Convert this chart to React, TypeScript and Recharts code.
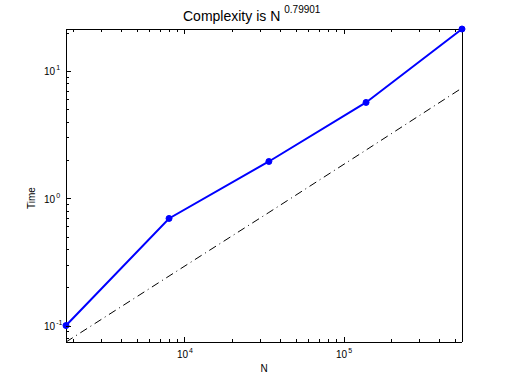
import React from 'react';
import { LineChart, Line, XAxis, YAxis } from 'recharts';

const nValues = [1786, 7940, 33700, 137600, 552000];
const timeValues = [0.101, 0.7, 1.96, 5.7, 21.5];
// reference slope line (dash-dot), N^0.79901
const fitValues = [0.075, 0.247, 0.78, 2.41, 7.4];

const xTicks = [
  2000, 3000, 4000, 5000, 6000, 7000, 8000, 9000, 10000,
  20000, 30000, 40000, 50000, 60000, 70000, 80000, 90000, 100000,
  200000, 300000, 400000, 500000,
];
const yTicks = [
  0.08, 0.09, 0.1, 0.2, 0.3, 0.4, 0.5, 0.6, 0.7, 0.8, 0.9, 1,
  2, 3, 4, 5, 6, 7, 8, 9, 10, 20,
];

const title = 'Complexity is N';
const titleExp = '0.79901';

const data = nValues.map((n, i) => ({ n, time: timeValues[i], fit: fitValues[i] }));

const FONT = 'Liberation Sans, Arial, Helvetica, sans-serif';

const isPow10 = (v: number) => Math.abs(Math.log10(v) - Math.round(Math.log10(v))) < 1e-9;

const XTick = (props: any) => {
  const { x, y, payload, side } = props;
  const v = payload.value;
  const major = isPow10(v);
  const len = major ? 5 : 3;
  const dir = side === 'bottom' ? -1 : 1;
  return (
    <g>
      <line x1={x} x2={x} y1={y} y2={y + dir * len} stroke="#000" strokeWidth={1} shapeRendering="crispEdges" />
      {major && side === 'bottom' && (
        <text x={x - 8} y={y + 16} fontSize={10} fontFamily={FONT} fill="#000">
          10
          <tspan dy={-5} dx={1} fontSize={7}>{Math.round(Math.log10(v))}</tspan>
        </text>
      )}
    </g>
  );
};

const YTick = (props: any) => {
  const { x, y, payload, side } = props;
  const v = payload.value;
  const major = isPow10(v);
  const len = major ? 5 : 3;
  const dir = side === 'left' ? 1 : -1;
  const exp = Math.round(Math.log10(v));
  return (
    <g>
      <line x1={x} x2={x + dir * len} y1={y} y2={y} stroke="#000" strokeWidth={1} shapeRendering="crispEdges" />
      {major && side === 'left' && (
        <text x={x - 22} y={y + 4} fontSize={10} fontFamily={FONT} fill="#000">
          10
          <tspan dy={-5} dx={1} fontSize={7}>{exp}</tspan>
        </text>
      )}
    </g>
  );
};

const axisCommon = {
  type: 'number' as const,
  scale: 'log' as const,
  interval: 0 as const,
  tickSize: 0,
  tickMargin: 0,
  tickLine: false,
  axisLine: { stroke: '#000', strokeWidth: 1, shapeRendering: 'crispEdges' },
};

export default function App() {
  return (
    <div style={{ position: 'absolute', left: 0, top: 0, width: 510, height: 384, background: '#fff' }}>
      <LineChart
        width={510}
        height={384}
        data={data}
        margin={{ top: 19, right: 38, bottom: 12, left: 26 }}
      >
        <XAxis
          {...axisCommon}
          xAxisId="b"
          dataKey="n"
          domain={[1786, 552000]}
          ticks={xTicks}
          height={30}
          tick={<XTick side="bottom" />}
        />
        <XAxis
          {...axisCommon}
          xAxisId="t"
          orientation="top"
          dataKey="n"
          domain={[1786, 552000]}
          ticks={xTicks}
          height={10}
          tick={<XTick side="top" />}
        />
        <YAxis
          {...axisCommon}
          yAxisId="l"
          domain={[0.075, 21.5]}
          ticks={yTicks}
          width={40}
          tick={<YTick side="left" />}
        />
        <YAxis
          {...axisCommon}
          yAxisId="r"
          orientation="right"
          domain={[0.075, 21.5]}
          ticks={yTicks}
          width={10}
          tick={<YTick side="right" />}
        />
        <Line
          xAxisId="b"
          yAxisId="l"
          dataKey="fit"
          stroke="#000"
          strokeWidth={1}
          strokeDasharray="8 4 1 4"
          dot={false}
          isAnimationActive={false}
        />
        <Line
          xAxisId="b"
          yAxisId="l"
          dataKey="time"
          stroke="#0000ff"
          strokeWidth={2}
          dot={{ r: 3, fill: '#0000ff', stroke: '#0000ff', strokeWidth: 1 }}
          isAnimationActive={false}
        />
      </LineChart>
      <svg
        width={510}
        height={384}
        style={{ position: 'absolute', left: 0, top: 0, pointerEvents: 'none' }}
      >
        <text x={183} y={21} fontSize={14} fontFamily={FONT} fill="#000">
          {title}
          <tspan dx={4} dy={-8} fontSize={10}>{titleExp}</tspan>
        </text>
        <text x={264} y={372} fontSize={10} fontFamily={FONT} fill="#000" textAnchor="middle">
          N
        </text>
        <text
          x={0}
          y={0}
          fontSize={10}
          fontFamily={FONT}
          fill="#000"
          textAnchor="middle"
          transform="translate(35,198) rotate(-90)"
        >
          Time
        </text>
      </svg>
    </div>
  );
}
